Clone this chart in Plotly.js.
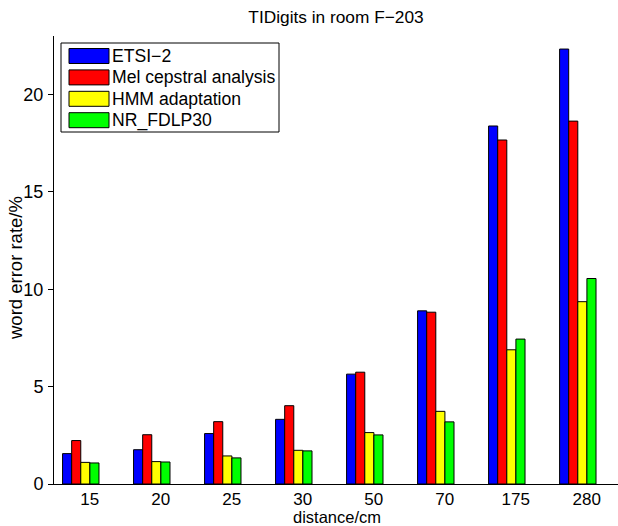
<!DOCTYPE html>
<html>
<head>
<meta charset="utf-8">
<script src="https://cdn.plot.ly/plotly-3.0.1.min.js"></script>
<style>html,body{margin:0;padding:0;background:#fff;}#chart{width:618px;height:526px;}</style>
</head>
<body>
<div id="chart"></div>
<script>
// ---- data ----
const categories = ['15', '20', '25', '30', '50', '70', '175', '280'];
const seriesNames = ['ETSI\u22122', 'Mel cepstral analysis', 'HMM adaptation', 'NR_FDLP30'];
const etsi2 = [1.56, 1.76, 2.59, 3.32, 5.64, 8.89, 18.38, 22.33];
const melCepstral = [2.23, 2.53, 3.20, 4.02, 5.74, 8.82, 17.66, 18.63];
const hmmAdaptation = [1.11, 1.15, 1.44, 1.73, 2.64, 3.73, 6.89, 9.36];
const nrFdlp30 = [1.08, 1.13, 1.34, 1.70, 2.52, 3.19, 7.44, 10.55];
const seriesValues = [etsi2, melCepstral, hmmAdaptation, nrFdlp30];
const seriesColors = ['#0000ff', '#ff0000', '#ffff00', '#00ff00'];

// ---- geometry (pixels) ----
const W = 618, H = 526;
const M = {l: 54, r: 0, t: 36, b: 42};
const plotW = W - M.l - M.r, plotH = H - M.t - M.b;
const px2x = p => (p - M.l) / plotW;
const px2y = p => (H - M.b - p) / plotH;
const FONT = 'Liberation Sans, Arial, Helvetica, sans-serif';

const traces = seriesNames.map((name, i) => ({
  type: 'bar',
  name: name,
  x: categories,
  y: seriesValues[i],
  marker: {color: seriesColors[i], line: {color: '#000', width: 1}},
  showlegend: false,
  hoverinfo: 'x+y+name'
}));

// custom legend (MATLAB style wide swatches)
const shapes = [];
const annotations = [];
shapes.push({type: 'rect', xref: 'paper', yref: 'paper',
  x0: px2x(61), x1: px2x(279), y0: px2y(43), y1: px2y(132),
  line: {color: '#000', width: 1}, fillcolor: '#fff', layer: 'above'});
seriesNames.forEach((name, i) => {
  const cy = 56 + i * 21.4;
  shapes.push({type: 'rect', xref: 'paper', yref: 'paper',
    x0: px2x(69), x1: px2x(109), y0: px2y(cy - 7.5), y1: px2y(cy + 7.5),
    line: {color: '#000', width: 1}, fillcolor: seriesColors[i], layer: 'above'});
  annotations.push({xref: 'paper', yref: 'paper', x: px2x(110), y: px2y(cy),
    xanchor: 'left', yanchor: 'middle', showarrow: false, text: name,
    font: {family: FONT, size: 17.6, color: '#000'}});
});

// axis titles placed as annotations
annotations.push({xref: 'paper', yref: 'paper', x: px2x(337), y: px2y(517),
  xanchor: 'center', yanchor: 'middle', showarrow: false, text: 'distance/cm',
  borderpad: 0,
  font: {family: FONT, size: 16.5, color: '#000'}});
annotations.push({xref: 'paper', yref: 'paper', x: px2x(15), y: px2y(268),
  xanchor: 'center', yanchor: 'middle', showarrow: false, textangle: -90,
  text: 'word error rate/%', font: {family: FONT, size: 18.5, color: '#000'}});

const layout = {
  width: W, height: H,
  margin: M,
  paper_bgcolor: '#fff', plot_bgcolor: '#fff',
  font: {family: FONT, color: '#000', size: 17},
  title: {text: 'TIDigits in room F\u2212203', x: 0.5, xref: 'paper',
    y: 1 - 17 / H, yref: 'container', yanchor: 'middle',
    font: {family: FONT, size: 17.3, color: '#000'}},
  barmode: 'group',
  bargap: 0.487,
  bargroupgap: 0,
  xaxis: {
    type: 'category',
    range: [-0.377, 7.566],
    showline: true, linecolor: '#000', linewidth: 1,
    ticks: '', showgrid: false, zeroline: false,
    ticklabelshift: 9,
    ticklabelstandoff: 0,
    tickfont: {family: FONT, size: 17, color: '#000'}
  },
  yaxis: {
    range: [0, 23],
    tickvals: [0, 5, 10, 15, 20],
    showline: true, linecolor: '#000', linewidth: 1,
    ticks: 'outside', ticklen: 5, tickcolor: '#000',
    showgrid: false, zeroline: false,
    ticklabelstandoff: 1,
    tickfont: {family: FONT, size: 18, color: '#000'}
  },
  shapes: shapes,
  annotations: annotations
};

Plotly.newPlot('chart', traces, layout, {displayModeBar: false, responsive: false});
</script>
</body>
</html>
